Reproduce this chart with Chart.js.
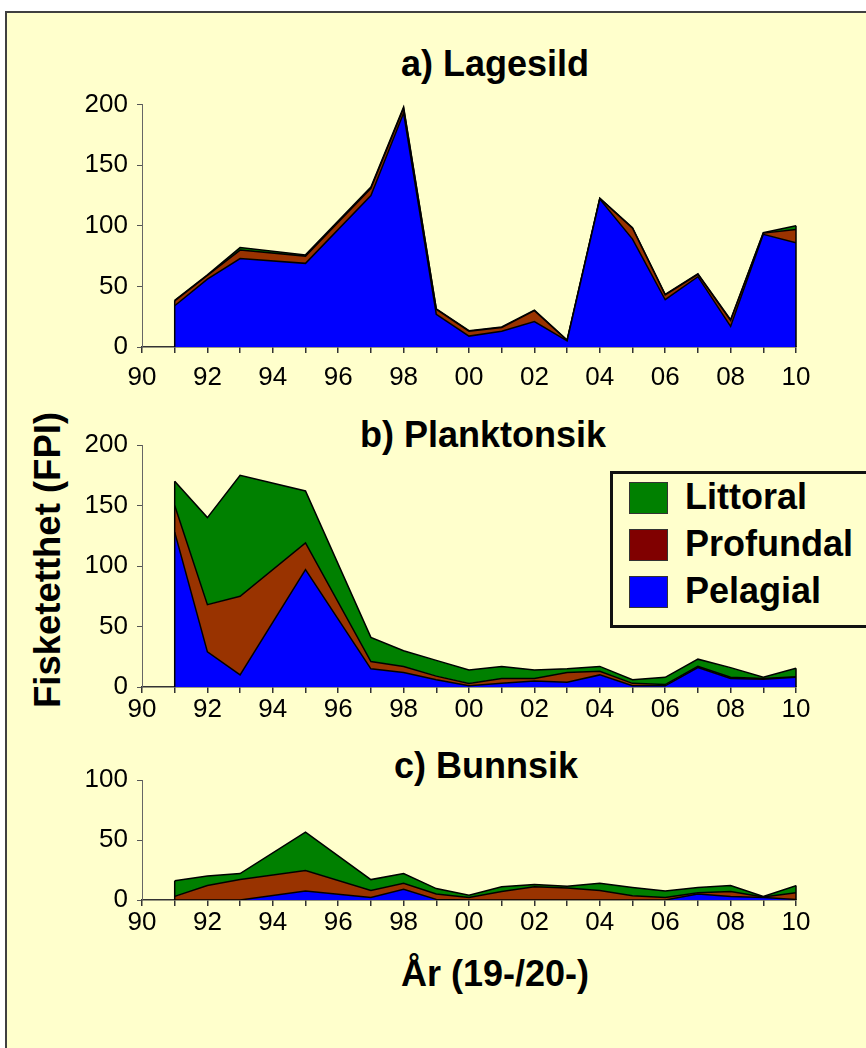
<!DOCTYPE html>
<html>
<head>
<meta charset="utf-8">
<script src="https://cdn.jsdelivr.net/npm/chart.js@4.4.1/dist/chart.umd.min.js"></script>
<style>
  html, body { margin: 0; padding: 0; background: #fff; width: 866px; height: 1048px; overflow: hidden;
    font-family: "Liberation Sans", Arial, sans-serif; }
  #frame { position: absolute; left: 5px; top: 11px; width: 900px; height: 1080px; background: #FFFFCC;
    border-left: 2px solid #404040; border-top: 2px solid #404040; }
  canvas { position: absolute; left: 0; }
  .t { position: absolute; font-weight: bold; font-size: 36px; line-height: 1; white-space: nowrap;
    color: #000; transform: translateX(-50%); }
  #ytitle { position: absolute; left: 48px; top: 560px; font-weight: bold; font-size: 36.5px; line-height: 1;
    white-space: nowrap; transform: translate(-50%, -50%) rotate(-90deg); }
  #legend { position: absolute; left: 610px; top: 471px; width: 270px; height: 151px; border: 3px solid #111;
    background: #FFFFCC; }
  .row { position: absolute; left: 16px; height: 34px; }
  .sw { position: absolute; left: 0; top: 0; width: 37px; height: 30px; border: 1px solid #333; }
  .lab { position: absolute; left: 56px; top: -3px; font-weight: bold; font-size: 36px; line-height: 1; white-space: nowrap; }
</style>
</head>
<body>
<div id="frame"></div>
<div class="t" style="left:495px; top:46px;">a) Lagesild</div>
<div class="t" style="left:483px; top:417px;">b) Planktonsik</div>
<div class="t" style="left:486px; top:748px;">c) Bunnsik</div>
<div class="t" style="left:495px; top:956px;">År (19-/20-)</div>
<div id="ytitle">Fisketetthet (FPI)</div>
<canvas id="cA" width="866" height="330" style="top:80px"></canvas>
<canvas id="cB" width="866" height="330" style="top:420px"></canvas>
<canvas id="cC" width="866" height="250" style="top:755px"></canvas>
<div id="legend"></div>
<script>
// Sampling years (no surveys in 1994 and 1996)
const years = [1991, 1992, 1993, 1995, 1997, 1998, 1999, 2000, 2001, 2002, 2003, 2004, 2005, 2006, 2007, 2008, 2009, 2010];
const tickLabels = ['90', '92', '94', '96', '98', '00', '02', '04', '06', '08', '10'];

// a) Lagesild
const lagesildPelagial  = [34, 56, 73, 69, 125, 193, 27, 9, 13, 21, 5, 122, 89, 39, 58, 17, 93, 86];
const lagesildProfundal = [4, 3, 7, 6, 6, 4, 4, 4, 3, 9, 0.5, 0.5, 9, 4, 2, 5, 1, 11];
const lagesildLittoral  = [0.5, 0.5, 2, 1, 1, 1, 0.5, 0.5, 0.5, 0.5, 0.3, 0.3, 0.5, 0.5, 0.5, 0.5, 0.3, 3];

// b) Planktonsik
const planktonPelagial  = [128, 29, 10, 97, 15, 12, 6, 1, 3, 5, 4, 10, 1, 1, 16, 7, 6.5, 8];
const planktonProfundal = [22, 39, 65, 22, 6, 5, 3, 2, 4, 2, 8, 3, 2, 1, 1, 1, 0.5, 0.5];
const planktonLittoral  = [20, 72, 100, 43, 20, 13, 13, 11, 10, 7, 3, 4, 3, 6, 6, 8, 1, 7];

// c) Bunnsik
const bunnPelagial  = [0, 0, 0, 7.5, 2, 9, 0.5, 0, 0, 0, 0, 0, 0, 0, 5, 3, 2, 0.5];
const bunnProfundal = [3, 12, 17, 17, 6, 5, 4.5, 2, 7, 11, 10, 8, 3.5, 2, 1, 4, 0.5, 5.5];
const bunnLittoral  = [13, 8, 5, 32, 9, 8, 4.5, 2, 4, 2, 1.5, 6, 7, 5.5, 4.5, 5, 0.5, 6];

const seriesNames = ['Pelagial', 'Profundal', 'Littoral'];
const areaColors = ['#0000FF', '#993300', '#008000'];
const legendColors = ['#0000FF', '#800000', '#008000'];

Chart.defaults.font.family = '"Liberation Sans", Arial, sans-serif';
Chart.defaults.color = '#000';

// Closes the stacked polygon with vertical outlines at the first and last year
const edgePlugin = {
  id: 'edges',
  afterDatasetsDraw(chart) {
    const pts = chart.getDatasetMeta(chart.data.datasets.length - 1).data;
    const y0 = chart.scales.y.getPixelForValue(0);
    const ctx = chart.ctx;
    ctx.save();
    ctx.strokeStyle = '#000';
    ctx.lineWidth = 1.5;
    [pts[0], pts[pts.length - 1]].forEach(p => {
      ctx.beginPath(); ctx.moveTo(p.x, p.y); ctx.lineTo(p.x, y0); ctx.stroke();
    });
    ctx.restore();
  }
};

function makeChart(id, series, yMax, pad, xPad) {
  const datasets = series.map((vals, k) => ({
    label: seriesNames[k],
    data: years.map((x, i) => ({ x: x, y: vals[i] })),
    backgroundColor: areaColors[k],
    borderColor: '#000',
    borderWidth: 1.5,
    fill: k === 0 ? 'origin' : '-1',
    pointRadius: 0,
    tension: 0
  }));
  return new Chart(document.getElementById(id), {
    type: 'line',
    data: { datasets: datasets },
    options: {
      responsive: false,
      animation: false,
      devicePixelRatio: 1,
      layout: { padding: pad },
      plugins: { legend: { display: false }, title: { display: false }, tooltip: { enabled: false } },
      scales: {
        x: {
          type: 'linear', min: 1990, max: 2010,
          ticks: {
            stepSize: 1, autoSkip: false, maxRotation: 0, padding: xPad,
            font: { size: 26 }, color: '#000',
            callback: v => (v % 2 === 0 ? tickLabels[(v - 1990) / 2] : '')
          },
          grid: { drawOnChartArea: false, tickLength: 6, color: '#333', lineWidth: 1.5 },
          border: { color: '#333', width: 1.5 },
          afterFit(s) { s.height = 50; }
        },
        y: {
          stacked: true, min: 0, max: yMax,
          ticks: { stepSize: 50, padding: 9, font: { size: 26 }, color: '#000' },
          grid: { drawOnChartArea: false, tickLength: 5, color: '#555' },
          border: { color: '#666', width: 1 },
          afterFit(s) { s.width = 70; }
        }
      }
    },
    plugins: [edgePlugin]
  });
}

makeChart('cA', [lagesildPelagial, lagesildProfundal, lagesildLittoral], 200,
  { left: 72, right: 70, top: 24, bottom: 13 }, 9);
const chartB = makeChart('cB', [planktonPelagial, planktonProfundal, planktonLittoral], 200,
  { left: 72, right: 70, top: 25, bottom: 13 }, 1);
makeChart('cC', [bunnPelagial, bunnProfundal, bunnLittoral], 100,
  { left: 72, right: 70, top: 25, bottom: 55 }, 1);

// Legend, top series first
const legend = document.getElementById('legend');
chartB.data.datasets.map((d, k) => ({ label: d.label, color: legendColors[k] })).reverse()
  .forEach((item, r) => {
    const row = document.createElement('div');
    row.className = 'row';
    row.style.top = (8 + r * 47) + 'px';
    row.innerHTML = '<div class="sw" style="background:' + item.color + '"></div><div class="lab">' + item.label + '</div>';
    legend.appendChild(row);
  });
</script>
</body>
</html>
